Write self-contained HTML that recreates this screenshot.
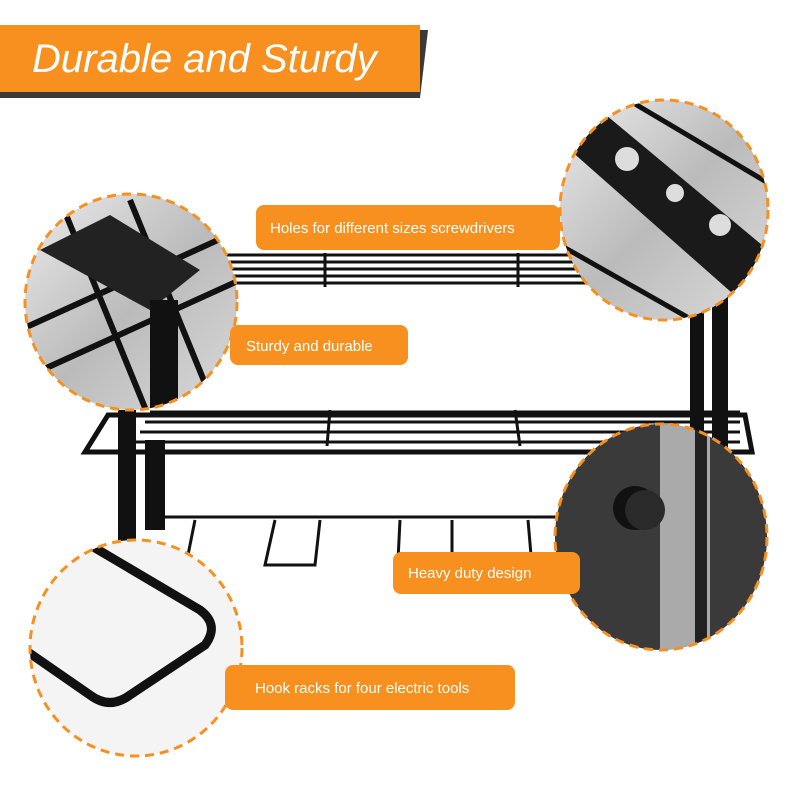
<!DOCTYPE html>
<html><head><style>
body{margin:0;background:#fff}
svg{display:block}
.l{font-family:"Liberation Sans",sans-serif;font-size:15px;fill:#fff}
</style></head><body>
<svg width="800" height="800" viewBox="0 0 800 800" xmlns="http://www.w3.org/2000/svg">
<defs>
<linearGradient id="g" x1="0" y1="0" x2="1" y2="1"><stop offset="0" stop-color="#eee"/><stop offset=".5" stop-color="#bbb"/><stop offset="1" stop-color="#ddd"/></linearGradient>
<clipPath id="c1"><ellipse cx="131" cy="302" rx="106" ry="108"/></clipPath>
<clipPath id="c2"><ellipse cx="664" cy="210" rx="104" ry="110"/></clipPath>
<clipPath id="c3"><ellipse cx="661" cy="537" rx="106" ry="113"/></clipPath>
<clipPath id="c4"><ellipse cx="136" cy="648" rx="106" ry="108"/></clipPath>
</defs>
<!-- title -->
<polygon points="0,30 428,30 420,98 0,98" fill="#3a3a3a"/>
<rect x="0" y="25" width="420" height="67" fill="#f7901e"/>
<text x="32" y="72" font-family="Liberation Sans,sans-serif" font-style="italic" font-size="40" fill="#fff" transform="translate(0,0)">Durable and Sturdy</text>
<!-- rack top shelf -->
<g stroke="#111" stroke-width="3" fill="none">
<line x1="225" y1="255" x2="700" y2="255"/><line x1="225" y1="262" x2="700" y2="262"/><line x1="225" y1="269" x2="700" y2="269"/><line x1="225" y1="276" x2="700" y2="276"/><line x1="225" y1="283" x2="700" y2="283"/>
<line x1="325" y1="253" x2="325" y2="287"/><line x1="518" y1="253" x2="518" y2="287"/>
<line x1="150" y1="412" x2="740" y2="412"/><line x1="145" y1="422" x2="740" y2="422"/><line x1="140" y1="432" x2="740" y2="432"/><line x1="135" y1="442" x2="740" y2="442"/>
<line x1="330" y1="410" x2="327" y2="446"/><line x1="515" y1="410" x2="520" y2="446"/>
<line x1="160" y1="517" x2="560" y2="517"/>
<line x1="195" y1="520" x2="187" y2="560"/>
<path d="M275 520 L265 565 L315 565 L320 520"/>
<line x1="400" y1="520" x2="398" y2="560"/><line x1="452" y1="520" x2="452" y2="560"/><line x1="528" y1="520" x2="531" y2="555"/>
</g>
<polygon points="108,415 745,415 752,452 85,452" fill="none" stroke="#111" stroke-width="5"/>
<rect x="118" y="410" width="18" height="135" fill="#111"/>
<circle cx="152" cy="488" r="3" fill="#fff" stroke="#111"/>
<rect x="145" y="440" width="20" height="90" fill="#111"/>
<rect x="690" y="280" width="14" height="340" fill="#111"/>
<rect x="712" y="280" width="16" height="340" fill="#111"/>
<!-- circle contents -->
<g clip-path="url(#c1)"><rect x="20" y="190" width="230" height="230" fill="url(#g)"/>
<g stroke="#111" stroke-width="6"><line x1="20" y1="330" x2="240" y2="230"/><line x1="20" y1="380" x2="240" y2="280"/><line x1="60" y1="200" x2="150" y2="420"/><line x1="130" y1="200" x2="220" y2="420"/></g>
<path d="M40 250 L110 215 L200 270 L150 310 Z" fill="#222"/><rect x="150" y="300" width="28" height="120" fill="#111"/></g>
<ellipse cx="131" cy="302" rx="106" ry="108" fill="none" stroke="#f7901e" stroke-width="3" stroke-dasharray="9 6"/>
<g clip-path="url(#c2)"><rect x="555" y="95" width="220" height="230" fill="url(#g)"/>
<polygon points="570,150 600,110 780,260 740,300" fill="#1a1a1a"/>
<circle cx="627" cy="159" r="12" fill="#ddd"/><circle cx="675" cy="193" r="9" fill="#ddd"/><circle cx="720" cy="225" r="11" fill="#ddd"/>
<g stroke="#111" stroke-width="5"><line x1="560" y1="245" x2="710" y2="330"/><line x1="620" y1="95" x2="780" y2="190"/></g></g>
<ellipse cx="664" cy="210" rx="104" ry="110" fill="none" stroke="#f7901e" stroke-width="3" stroke-dasharray="9 6"/>
<g clip-path="url(#c3)"><rect x="550" y="420" width="225" height="235" fill="#3a3a3a"/>
<rect x="660" y="420" width="50" height="235" fill="#aaa"/><rect x="695" y="420" width="12" height="235" fill="#222"/>
<circle cx="635" cy="508" r="22" fill="#111"/><circle cx="645" cy="510" r="20" fill="#2a2a2a"/></g>
<ellipse cx="661" cy="537" rx="106" ry="113" fill="none" stroke="#f7901e" stroke-width="3" stroke-dasharray="9 6"/>
<g clip-path="url(#c4)"><rect x="25" y="535" width="225" height="225" fill="#f4f4f4"/>
<path d="M90 545 L200 610 Q220 625 205 645 L130 695 Q110 710 90 695 L25 650" fill="none" stroke="#111" stroke-width="9" stroke-linejoin="round"/></g>
<ellipse cx="136" cy="648" rx="106" ry="108" fill="none" stroke="#f7901e" stroke-width="3" stroke-dasharray="9 6"/>
<!-- labels -->
<rect x="256" y="205" width="304" height="45" rx="8" fill="#f7901e"/><text class="l" x="270" y="233">Holes for different sizes screwdrivers</text>
<rect x="230" y="325" width="178" height="40" rx="8" fill="#f7901e"/><text class="l" x="246" y="351">Sturdy and durable</text>
<rect x="393" y="552" width="187" height="42" rx="8" fill="#f7901e"/><text class="l" x="408" y="578">Heavy duty design</text>
<rect x="225" y="665" width="290" height="45" rx="8" fill="#f7901e"/><text class="l" x="255" y="693">Hook racks for four electric tools</text>
</svg>
</body></html>
